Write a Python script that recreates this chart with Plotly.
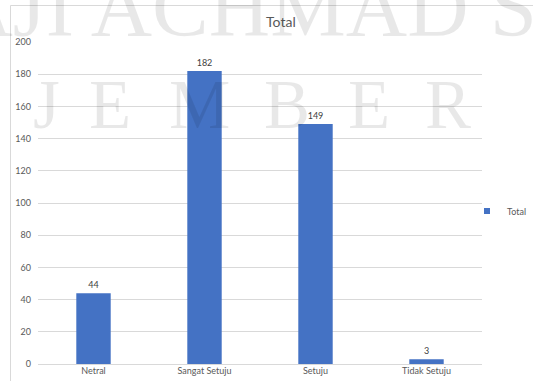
import plotly.graph_objects as go

# Survey response counts
categories = ["Netral", "Sangat Setuju", "Setuju", "Tidak Setuju"]
totals = [44, 182, 149, 3]
y_ticks = [0, 20, 40, 60, 80, 100, 120, 140, 160, 180, 200]

W, H = 533, 381
ML, MR, MT, MB = 38, 51, 42, 17
PW, PH = W - ML - MR, H - MT - MB

BAR_COLOR = "#4472C4"
TEXT_GRAY = "#595959"
GRID = "#d9d9d9"
FONT = "Lato, 'Open Sans', sans-serif"
WM_COLOR = "rgba(0,0,0,0.09)"
WM_FONT = "'Liberation Serif', 'DejaVu Serif', serif"


def px_x(px):
    return (px - ML) / PW


def px_y(py):
    return (H - MB - py) / PH


fig = go.Figure()
fig.add_trace(go.Bar(
    x=categories, y=totals, name="Total",
    marker=dict(color=BAR_COLOR, line=dict(width=0)),
    text=totals, texttemplate="%{text}", textposition="outside",
    textfont=dict(size=9, color="#404040", family=FONT),
    cliponaxis=False, showlegend=False,
))
# small square legend swatch
fig.add_trace(go.Scatter(
    x=[None], y=[None], mode="markers", name="Total",
    marker=dict(symbol="square", size=6, color=BAR_COLOR),
    showlegend=True,
))

annotations = []
# watermark, upper line
annotations.append(dict(
    text="HAJI ACHMAD SIDDIQ", xref="paper", yref="paper",
    x=px_x(-112), y=px_y(56), xanchor="left", yanchor="bottom",
    showarrow=False, font=dict(family=WM_FONT, size=85, color=WM_COLOR),
))
# watermark, lower line (spaced letters)
for ch, cx in zip("JEMBER", [46, 110, 199, 287, 369, 448]):
    annotations.append(dict(
        text=ch, xref="paper", yref="paper",
        x=px_x(cx), y=px_y(145), xanchor="center", yanchor="bottom",
        showarrow=False, font=dict(family=WM_FONT, size=69, color=WM_COLOR),
    ))

shapes = [
    dict(type="line", xref="paper", yref="paper",
         x0=px_x(10.5), x1=px_x(10.5), y0=px_y(5.5), y1=px_y(H + 5),
         line=dict(color=GRID, width=1)),
    dict(type="line", xref="paper", yref="paper",
         x0=px_x(10.5), x1=px_x(W + 5), y0=px_y(5.5), y1=px_y(5.5),
         line=dict(color=GRID, width=1)),
]

fig.update_layout(
    width=W, height=H,
    margin=dict(l=ML, r=MR, t=MT, b=MB, pad=0, autoexpand=False),
    paper_bgcolor="white", plot_bgcolor="white",
    font=dict(family=FONT, color=TEXT_GRAY, size=9),
    title=dict(text="Total", x=px_x(272), xanchor="center",
               y=1 - 22 / H, yanchor="middle",
               font=dict(size=14, color=TEXT_GRAY, family=FONT)),
    bargap=0.69,
    showlegend=True,
    legend=dict(x=px_x(467), xanchor="left", y=px_y(211), yanchor="middle",
                font=dict(size=9, color=TEXT_GRAY, family=FONT),
                bgcolor="rgba(0,0,0,0)", itemwidth=30),
    xaxis=dict(showgrid=False, showline=False, ticks="", automargin=False,
               tickfont=dict(size=9, color=TEXT_GRAY), fixedrange=True),
    yaxis=dict(range=[0, 200], tickvals=y_ticks, showgrid=True,
               gridcolor=GRID, gridwidth=1, zeroline=True, automargin=False,
               zerolinecolor=GRID, zerolinewidth=1, showline=False,
               ticks="", ticklabelstandoff=6,
               tickfont=dict(size=9, color=TEXT_GRAY)),
    annotations=annotations,
    shapes=shapes,
)

fig.write_html("out.html")
